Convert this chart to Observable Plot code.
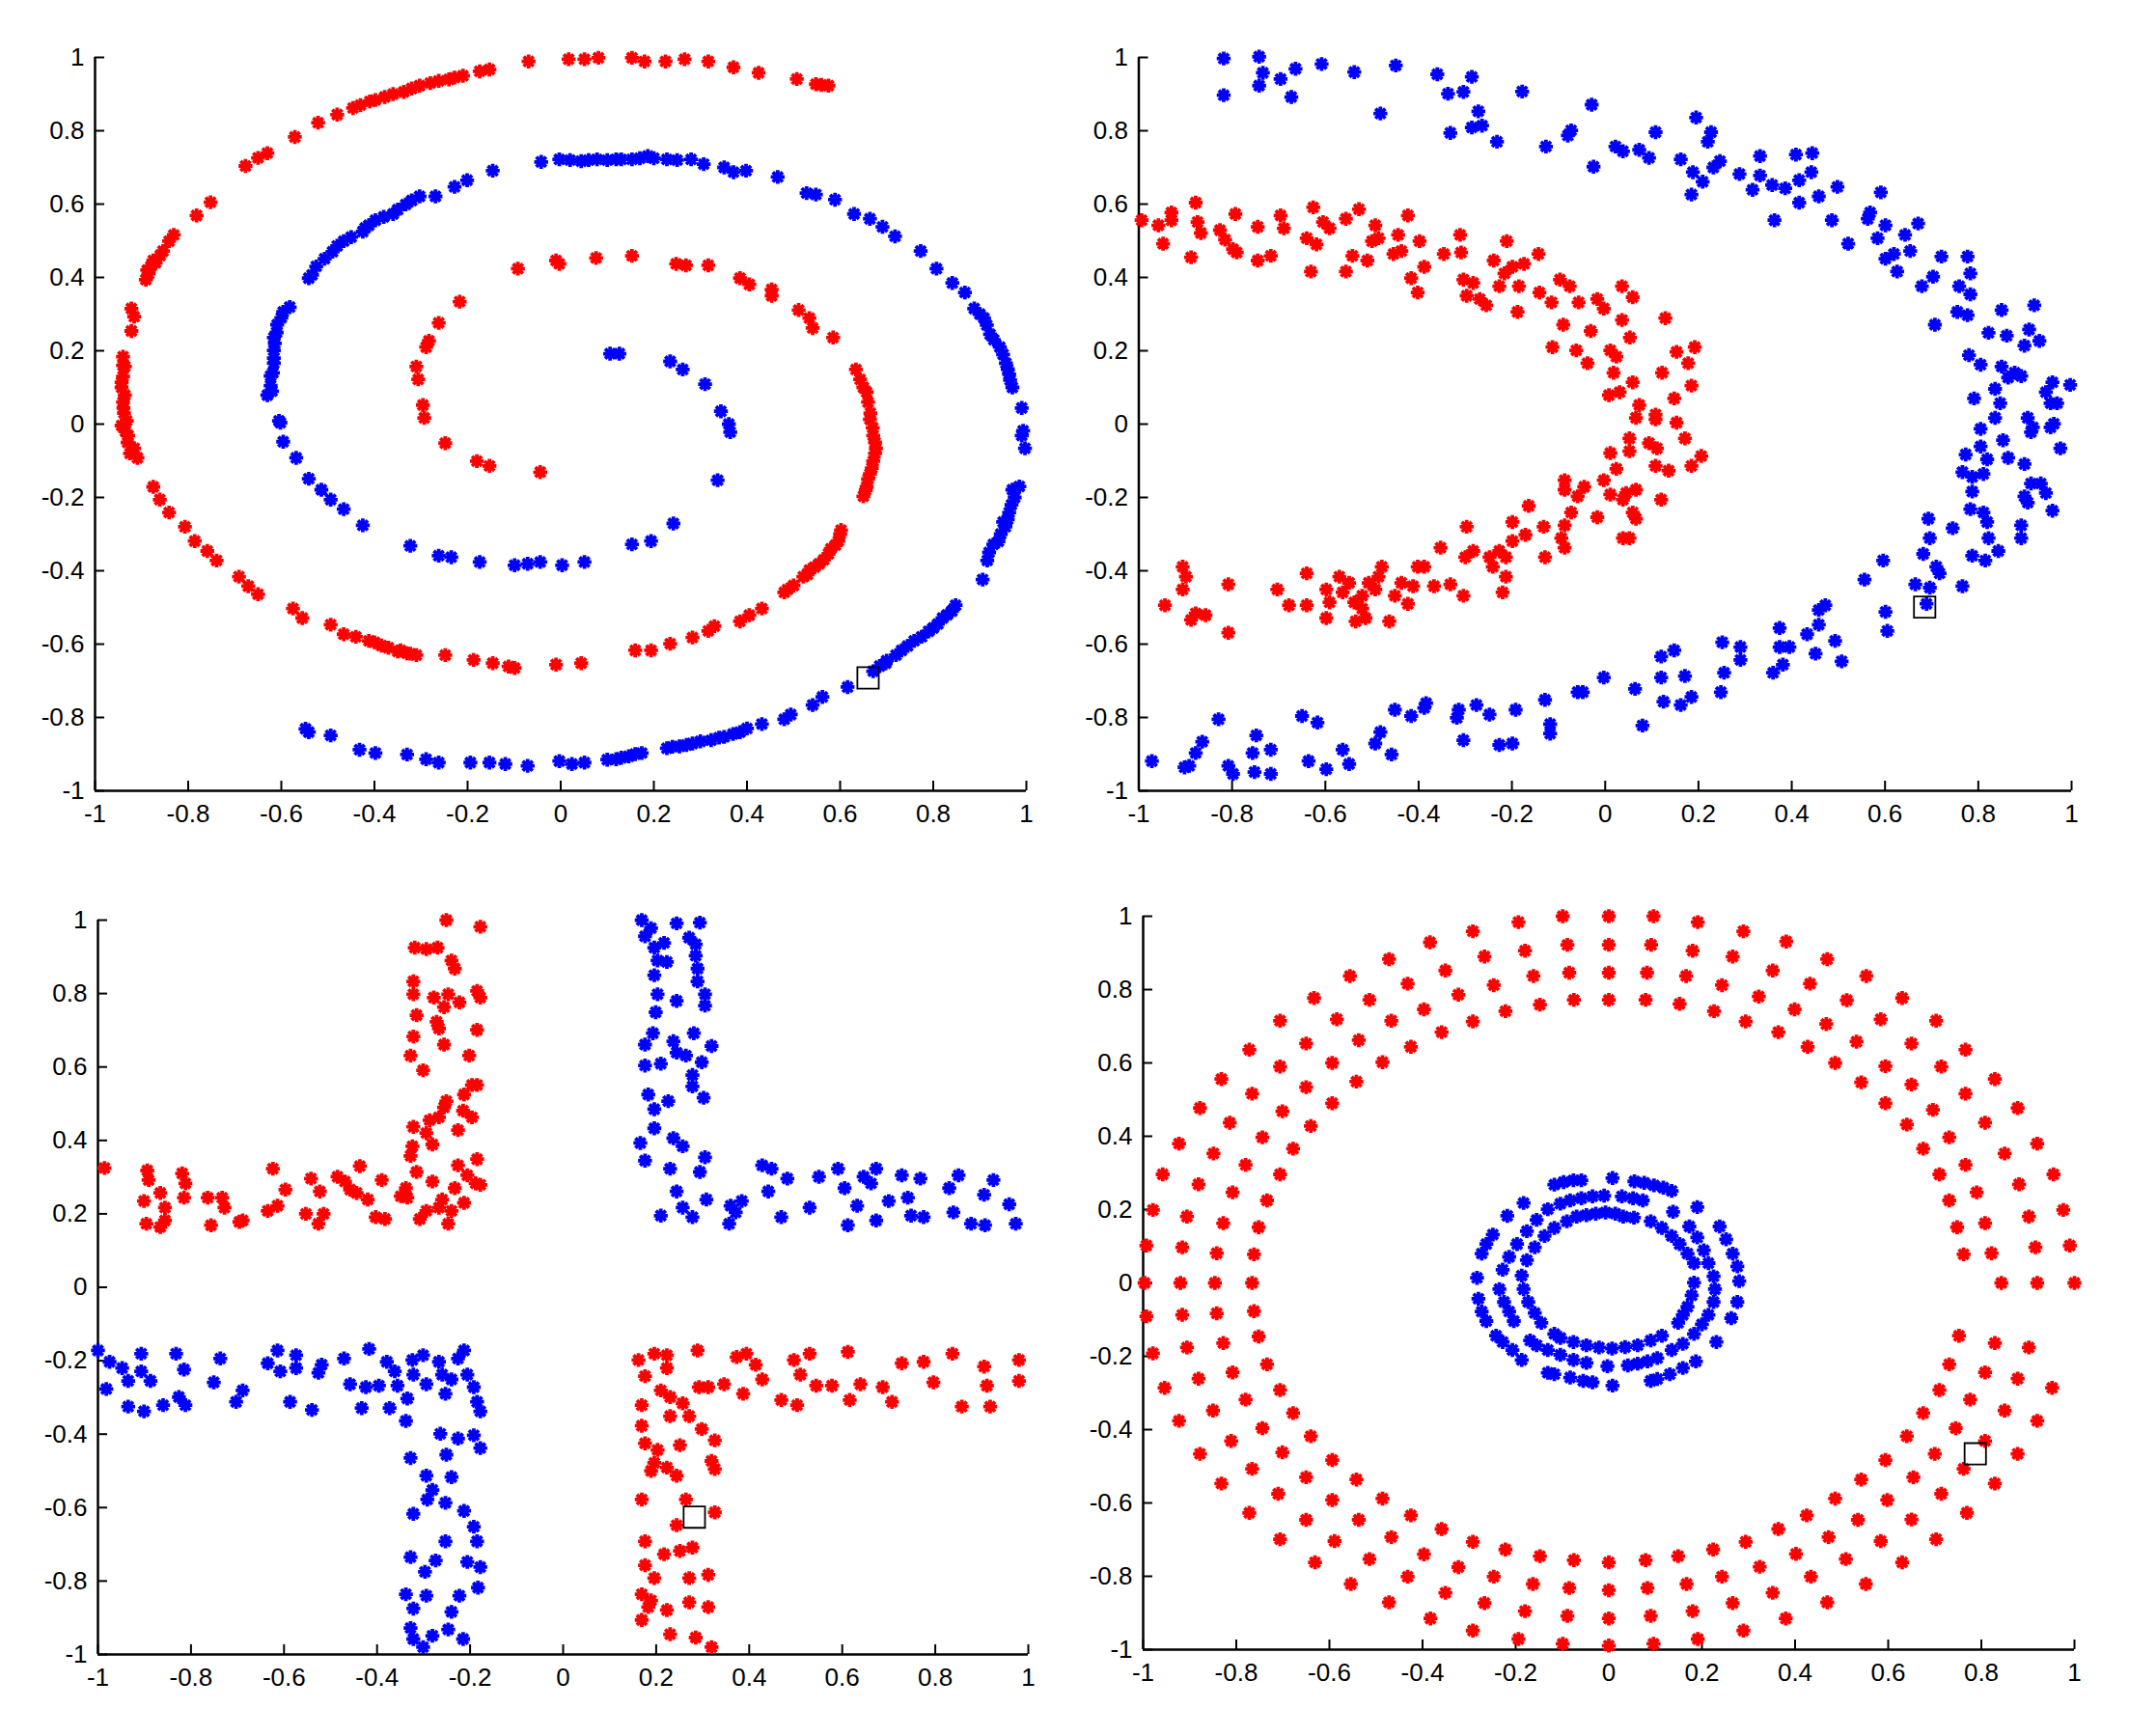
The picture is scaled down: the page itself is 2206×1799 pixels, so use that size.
<!DOCTYPE html>
<html>
<head>
<meta charset="utf-8">
<script src="https://cdn.jsdelivr.net/npm/d3@7"></script>
<script src="https://cdn.jsdelivr.net/npm/@observablehq/plot@0.6"></script>
<style>
  html, body { margin: 0; padding: 0; background: #ffffff; }
  #fig { position: relative; width: 2206px; height: 1799px; background: #ffffff; overflow: hidden; }
  #fig > svg { position: absolute; }
</style>
</head>
<body>
<div id="fig"></div>
<script>
// ---------------- data ----------------
const ticks = [-1, -0.8, -0.6, -0.4, -0.2, 0, 0.2, 0.4, 0.6, 0.8, 1];

// Panel 1: two interleaved spirals
const spiralRed = [
  [0.575,0.923],[0.56,0.925],[0.548,0.927],[0.507,0.941],[0.425,0.958],[0.371,0.973],[0.317,0.989],[0.266,0.995],
  [0.225,0.989],[0.180,0.989],[0.153,0.999],[0.081,0.999],[0.051,0.995],[0.017,0.995],[-0.069,0.989],
  [-0.153,0.967],[-0.174,0.962],[-0.21,0.95],[-0.228,0.945],[-0.24,0.94],[-0.262,0.936],[-0.28,0.93],[-0.303,0.923],
  [-0.32,0.915],[-0.337,0.906],[-0.36,0.90],[-0.378,0.892],[-0.398,0.884],[-0.41,0.88],[-0.43,0.87],[-0.446,0.862],
  [-0.480,0.844],[-0.521,0.822],[-0.571,0.783],[-0.630,0.739],[-0.650,0.726],[-0.677,0.704],[-0.752,0.605],
  [-0.782,0.569],[-0.831,0.516],[-0.841,0.499],[-0.854,0.472],[-0.86,0.46],[-0.87,0.44],[-0.875,0.446],
  [-0.88,0.43],[-0.888,0.420],[-0.885,0.41],[-0.891,0.394],[-0.922,0.315],[-0.916,0.293],[-0.922,0.254],
  [-0.940,0.184],[-0.94,0.16],[-0.936,0.157],[-0.94,0.13],[-0.943,0.114],[-0.943,0.10],[-0.936,0.079],
  [-0.94,0.06],[-0.939,0.044],[-0.938,0.03],[-0.932,0.009],[-0.943,-0.004],[-0.935,-0.02],[-0.929,-0.031],
  [-0.93,-0.05],[-0.916,-0.066],[-0.925,-0.08],[-0.909,-0.092],[-0.875,-0.171],[-0.861,-0.206],[-0.841,-0.241],
  [-0.807,-0.280],[-0.786,-0.319],[-0.759,-0.346],[-0.739,-0.372],[-0.691,-0.416],[-0.671,-0.442],[-0.650,-0.464],
  [-0.575,-0.503],[-0.555,-0.529],[-0.494,-0.547],[-0.466,-0.573],[-0.44,-0.58],[-0.412,-0.591],[-0.40,-0.595],
  [-0.385,-0.604],[-0.37,-0.61],[-0.35,-0.62],[-0.344,-0.617],[-0.33,-0.625],[-0.323,-0.626],[-0.31,-0.63],
  [-0.248,-0.630],[-0.187,-0.643],[-0.146,-0.652],[-0.112,-0.661],[-0.099,-0.665],[-0.010,-0.656],[0.044,-0.652],
  [0.160,-0.617],[0.194,-0.617],[0.235,-0.599],[0.283,-0.582],[0.317,-0.564],[0.330,-0.551],[0.385,-0.538],
  [0.405,-0.521],[0.432,-0.503],[0.480,-0.459],[0.487,-0.451],[0.50,-0.44],[0.521,-0.416],[0.53,-0.41],
  [0.534,-0.398],[0.545,-0.39],[0.555,-0.381],[0.565,-0.37],[0.575,-0.354],[0.58,-0.34],[0.59,-0.33],
  [0.596,-0.319],[0.60,-0.30],[0.602,-0.289],[0.650,-0.197],[0.655,-0.18],[0.657,-0.171],[0.66,-0.15],
  [0.664,-0.136],[0.668,-0.12],[0.671,-0.101],[0.675,-0.08],[0.677,-0.066],[0.675,-0.05],[0.671,-0.031],
  [0.67,-0.01],[0.664,0.013],[0.665,0.03],[0.66,0.06],[0.657,0.087],[0.65,0.1],[0.643,0.122],[0.634,0.149],
  [0.585,0.236],[0.541,0.262],[0.534,0.289],[0.511,0.311],[0.453,0.350],[0.453,0.367],[0.405,0.381],
  [0.385,0.398],[0.317,0.433],[0.269,0.433],[0.248,0.437],[0.153,0.459],[0.076,0.453],[-0.003,0.437],
  [-0.010,0.446],[-0.092,0.424],[-0.217,0.334],[-0.262,0.276],[-0.283,0.227],[-0.289,0.210],[-0.310,0.157],
  [-0.306,0.122],[-0.296,0.052],[-0.293,0.017],[-0.248,-0.052],[-0.180,-0.101],[-0.153,-0.114],[-0.044,-0.131]
];
const spiralBlue = [
  [-0.146,0.691],[-0.201,0.665],[-0.228,0.647],[-0.269,0.621],[-0.303,0.621],[-0.32,0.61],[-0.333,0.599],
  [-0.35,0.585],[-0.360,0.573],[-0.38,0.565],[-0.398,0.556],[-0.412,0.542],[-0.42,0.535],[-0.425,0.525],
  [-0.45,0.51],[-0.466,0.499],[-0.480,0.486],[-0.49,0.47],[-0.507,0.451],[-0.525,0.43],[-0.534,0.407],
  [-0.541,0.398],[-0.582,0.319],[-0.596,0.306],[-0.6,0.29],[-0.609,0.271],[-0.61,0.25],[-0.616,0.236],
  [-0.614,0.22],[-0.616,0.201],[-0.616,0.18],[-0.616,0.166],[-0.618,0.14],[-0.623,0.131],[-0.623,0.105],
  [-0.62,0.09],[-0.630,0.079],[-0.605,0.009],
  [-0.042,0.715],[-0.003,0.722],[0.02,0.72],[0.044,0.717],[0.06,0.72],[0.078,0.722],[0.10,0.72],[0.119,0.722],
  [0.13,0.722],[0.153,0.722],[0.17,0.725],[0.187,0.731],[0.2,0.725],[0.228,0.722],[0.25,0.72],[0.280,0.722],
  [0.307,0.709],[0.351,0.700],[0.371,0.687],[0.398,0.691],[0.466,0.674],[0.528,0.630],[0.548,0.626],
  [0.589,0.612],[0.630,0.573],[0.664,0.560],[0.691,0.538],[0.718,0.512],[0.773,0.472],[0.807,0.424],
  [0.841,0.385],[0.868,0.359],[0.888,0.315],[0.90,0.30],[0.909,0.289],[0.915,0.27],[0.922,0.245],[0.93,0.23],
  [0.943,0.210],[0.95,0.19],[0.956,0.166],[0.96,0.15],[0.963,0.136],[0.965,0.12],[0.97,0.1],[0.990,0.044],
  [0.993,-0.018],[0.990,-0.031],[0.997,-0.066],[0.970,-0.179],[0.985,-0.17],[0.975,-0.2],[0.968,-0.22],
  [0.963,-0.241],[0.96,-0.26],[0.950,-0.267],[0.955,-0.28],[0.945,-0.3],[0.94,-0.32],[0.929,-0.328],
  [0.92,-0.35],[0.916,-0.372],[0.906,-0.424],[0.848,-0.494],[0.84,-0.51],[0.83,-0.52],[0.820,-0.529],
  [0.81,-0.545],[0.800,-0.556],[0.79,-0.565],[0.775,-0.58],[0.759,-0.591],[0.745,-0.605],[0.732,-0.617],
  [0.72,-0.63],[0.70,-0.645],[0.698,-0.652],[0.685,-0.66],[0.671,-0.674],[0.616,-0.717],[0.562,-0.744],
  [0.541,-0.766],[0.494,-0.792],[0.480,-0.805],[0.432,-0.818],[0.40,-0.83],[0.385,-0.840],[0.37,-0.845],
  [0.351,-0.853],[0.34,-0.855],[0.323,-0.862],[0.30,-0.865],[0.283,-0.871],[0.27,-0.875],[0.255,-0.879],
  [0.24,-0.88],[0.228,-0.884],[0.174,-0.897],[0.16,-0.90],[0.146,-0.906],[0.13,-0.91],[0.119,-0.914],
  [0.1,-0.915],[0.051,-0.923],[0.024,-0.927],[-0.003,-0.919],[-0.071,-0.932],[-0.119,-0.927],[-0.153,-0.923],
  [-0.194,-0.923],[-0.262,-0.923],[-0.289,-0.914],[-0.330,-0.901],[-0.398,-0.897],[-0.432,-0.888],
  [-0.494,-0.849],[-0.541,-0.840],[-0.548,-0.831],
  [-0.602,0.004],[-0.596,-0.048],[-0.568,-0.092],[-0.541,-0.149],[-0.514,-0.179],[-0.494,-0.206],
  [-0.466,-0.232],[-0.425,-0.276],[-0.323,-0.332],[-0.262,-0.359],[-0.235,-0.363],[-0.174,-0.376],
  [-0.099,-0.385],[-0.071,-0.381],[-0.044,-0.376],[0.003,-0.385],[0.051,-0.376],[0.153,-0.328],[0.194,-0.319],
  [0.242,-0.271],[0.337,-0.153],[0.364,-0.022],[0.361,0.000],[0.344,0.035],[0.310,0.109],[0.262,0.149],
  [0.235,0.171],[0.126,0.192],[0.106,0.192]
];

// Panel 2: two noisy moons
const moonsRed = [
  [-0.994,0.556],[-0.958,0.542],[-0.948,0.492],[-0.930,0.556],[-0.930,0.577],[-0.888,0.455],[-0.878,0.604],
  [-0.874,0.551],[-0.867,0.521],[-0.826,0.529],[-0.815,0.503],[-0.798,0.477],[-0.790,0.468],[-0.793,0.573],
  [-0.745,0.538],[-0.745,0.446],[-0.717,0.459],[-0.696,0.569],[-0.689,0.534],[-0.640,0.507],[-0.631,0.416],
  [-0.626,0.591],[-0.619,0.490],[-0.605,0.551],[-0.591,0.534],[-0.556,0.560],[-0.556,0.416],[-0.542,0.459],
  [-0.528,0.586],[-0.510,0.446],[-0.500,0.499],[-0.493,0.542],[-0.486,0.507],[-0.454,0.464],[-0.444,0.516],
  [-0.437,0.472],[-0.423,0.569],[-0.416,0.398],[-0.402,0.359],[-0.398,0.499],[-0.388,0.429],[-0.346,0.464],
  [-0.311,0.516],[-0.309,0.468],[-0.304,0.394],[-0.297,0.350],[-0.283,0.385],[-0.269,0.341],[-0.255,0.324],
  [-0.239,0.446],[-0.227,0.376],[-0.216,0.411],[-0.211,0.499],[-0.199,0.429],[-0.188,0.306],[-0.185,0.376],
  [-0.174,0.437],[-0.143,0.464],[-0.141,0.359],[-0.115,0.332],[-0.113,0.210],[-0.097,0.394],[-0.090,0.271],
  [-0.076,0.376],[-0.062,0.201],[-0.057,0.332],[-0.038,0.166],[-0.031,0.254],[-0.017,0.341],[-0.003,0.315],
  [0.011,0.201],[0.018,0.140],[0.024,0.184],[0.036,0.376],[0.036,0.284],[0.053,0.236],[0.059,0.346],
  [0.008,0.079],[0.031,0.087],[0.059,0.114],[0.073,0.052],[0.108,0.026],[0.122,0.140],[0.129,0.289],
  [0.148,0.070],[0.153,0.197],[0.178,0.166],[0.185,0.105],[0.192,0.210],[0.153,0.004],
  [0.066,0.017],[0.108,0.013],[0.171,-0.039],[0.094,-0.052],[0.111,-0.066],[0.052,-0.039],[0.011,-0.079],
  [0.052,-0.074],[0.206,-0.087],[0.185,-0.114],[0.108,-0.114],[0.136,-0.127],[0.024,-0.122],[-0.045,-0.171],
  [-0.087,-0.153],[-0.087,-0.179],[-0.003,-0.153],[0.011,-0.192],[0.038,-0.206],[0.045,-0.188],[0.066,-0.179],
  [0.059,-0.241],[0.066,-0.258],[0.052,-0.311],[0.120,-0.206],[0.038,-0.311],[-0.017,-0.254],[-0.059,-0.197],
  [-0.073,-0.241],[-0.087,-0.276],[-0.094,-0.311],[-0.087,-0.337],[-0.132,-0.280],[-0.129,-0.363],[-0.164,-0.223],
  [-0.171,-0.302],[-0.199,-0.267],[-0.199,-0.319],[-0.213,-0.363],[-0.213,-0.416],[-0.220,-0.459],[-0.227,-0.346],
  [-0.248,-0.363],[-0.241,-0.389],[-0.283,-0.346],[-0.297,-0.280],[-0.300,-0.363],[-0.304,-0.468],[-0.353,-0.337],
  [-0.332,-0.437],[-0.367,-0.442],[-0.388,-0.389],[-0.402,-0.389],[-0.412,-0.442],[-0.423,-0.490],[-0.437,-0.433],
  [-0.451,-0.468],[-0.479,-0.389],[-0.486,-0.416],[-0.493,-0.451],[-0.507,-0.433],[-0.521,-0.468],[-0.521,-0.503],
  [-0.538,-0.486],[-0.549,-0.433],[-0.563,-0.459],[-0.570,-0.416],[-0.591,-0.486],[-0.598,-0.529],[-0.598,-0.451],
  [-0.640,-0.407],[-0.640,-0.494],[-0.678,-0.494],[-0.703,-0.451],[-0.808,-0.437],[-0.808,-0.569],[-0.857,-0.521],
  [-0.878,-0.516],[-0.888,-0.534],[-0.899,-0.416],[-0.906,-0.451],[-0.906,-0.389],[-0.944,-0.494],
  [-0.463,-0.538],[-0.514,-0.529],[-0.535,-0.538]
];
const moonsBlue = [
  [-0.818,0.997],[-0.818,0.897],[-0.742,1.002],[-0.742,0.923],[-0.734,0.958],[-0.696,0.941],[-0.673,0.892],
  [-0.664,0.969],[-0.608,0.982],[-0.538,0.960],[-0.482,0.847],[-0.449,0.978],[-0.360,0.954],[-0.337,0.901],
  [-0.332,0.794],[-0.304,0.906],[-0.286,0.947],[-0.286,0.809],[-0.272,0.853],[-0.264,0.814],[-0.232,0.770],
  [-0.178,0.907],[-0.127,0.757],[-0.080,0.787],[-0.073,0.801],[-0.029,0.871],[-0.025,0.702],[0.022,0.757],
  [0.038,0.744],[0.073,0.748],[0.094,0.726],[0.108,0.796],[0.162,0.722],[0.185,0.626],[0.188,0.687],
  [0.195,0.836],[0.209,0.661],[0.220,0.770],[0.227,0.796],[0.232,0.700],[0.246,0.717],[0.288,0.682],
  [0.316,0.639],[0.332,0.731],[0.332,0.678],[0.358,0.652],[0.363,0.556],[0.386,0.643],[0.409,0.735],
  [0.416,0.604],[0.416,0.665],[0.442,0.687],[0.444,0.739],[0.458,0.621],[0.486,0.556],[0.498,0.647],
  [0.521,0.492],[0.563,0.560],[0.568,0.577],[0.584,0.507],[0.591,0.632],[0.601,0.542],[0.601,0.451],
  [0.619,0.464],[0.626,0.416],[0.643,0.516],[0.654,0.472],[0.671,0.547],[0.679,0.376],[0.703,0.402],
  [0.721,0.457],[0.755,0.306],[0.759,0.376],[0.777,0.457],[0.783,0.411],[0.783,0.354],[0.777,0.297],
  [0.707,0.271],[0.780,0.188],[0.805,0.162],[0.822,0.249],[0.850,0.311],[0.861,0.241],[0.850,0.157],
  [0.864,0.127],[0.878,0.140],[0.892,0.131],[0.899,0.214],[0.909,0.258],[0.920,0.324],[0.931,0.227],
  [0.791,0.070],[0.836,0.096],[0.847,0.057],[0.836,0.017],[0.805,-0.013],[0.906,0.017],[0.917,-0.009],
  [0.945,0.087],[0.959,0.114],[0.955,0.057],[0.969,0.057],[0.962,0.001],[0.997,0.107],
  [0.805,-0.061],[0.773,-0.083],[0.766,-0.131],[0.787,-0.144],[0.811,-0.136],[0.819,-0.096],[0.853,-0.044],
  [0.864,-0.092],[0.899,-0.109],[0.913,-0.022],[0.955,-0.009],[0.976,-0.066],[0.787,-0.184],[0.783,-0.232],
  [0.811,-0.241],[0.819,-0.267],[0.899,-0.197],[0.906,-0.214],[0.913,-0.162],[0.934,-0.162],[0.945,-0.188],
  [0.959,-0.236],[0.745,-0.284],[0.693,-0.258],[0.682,-0.354],[0.696,-0.311],[0.710,-0.389],[0.717,-0.407],
  [0.787,-0.359],[0.822,-0.311],[0.815,-0.372],[0.843,-0.346],[0.892,-0.276],[0.892,-0.311],[0.766,-0.442],
  [0.665,-0.437],[0.696,-0.446],[0.689,-0.490],[0.601,-0.512],[0.605,-0.564],[0.596,-0.372],[0.556,-0.424],
  [0.472,-0.494],[0.458,-0.507],[0.458,-0.547],[0.433,-0.573],[0.451,-0.626],[0.493,-0.591],[0.507,-0.647],
  [0.374,-0.556],[0.374,-0.608],[0.395,-0.608],[0.381,-0.656],[0.360,-0.678],[0.290,-0.608],[0.290,-0.643],
  [0.255,-0.678],[0.251,-0.595],[0.248,-0.731],[0.185,-0.744],[0.171,-0.687],[0.162,-0.766],[0.148,-0.617],
  [0.120,-0.634],[0.120,-0.691],[0.125,-0.757],[0.064,-0.722],[0.080,-0.822],[-0.003,-0.691],[-0.048,-0.731],
  [-0.059,-0.731],[-0.129,-0.752],[-0.118,-0.818],[-0.118,-0.844],[-0.192,-0.779],[-0.248,-0.792],[-0.276,-0.766],
  [-0.314,-0.779],[-0.318,-0.801],[-0.304,-0.862],[-0.199,-0.871],[-0.227,-0.875],[-0.384,-0.761],[-0.388,-0.774],
  [-0.416,-0.796],[-0.451,-0.779],[-0.482,-0.840],[-0.493,-0.871],[-0.458,-0.901],[-0.549,-0.927],[-0.563,-0.888],
  [-0.598,-0.941],[-0.636,-0.919],[-0.650,-0.796],[-0.617,-0.814],[-0.717,-0.888],[-0.717,-0.954],[-0.748,-0.849],
  [-0.756,-0.897],[-0.752,-0.949],[-0.798,-0.954],[-0.808,-0.932],[-0.829,-0.805],[-0.864,-0.866],[-0.878,-0.897],
  [-0.892,-0.932],[-0.902,-0.936],[-0.972,-0.919]
];

// Panel 3: four L-shaped bands
const crossRed = [
  [-0.986,0.325],[-0.894,0.318],[-0.891,0.292],[-0.901,0.235],[-0.896,0.173],[-0.866,0.257],[-0.866,0.164],
  [-0.856,0.217],[-0.856,0.182],[-0.819,0.310],[-0.812,0.283],[-0.815,0.244],[-0.764,0.244],[-0.757,0.169],
  [-0.733,0.244],[-0.728,0.217],[-0.696,0.178],[-0.689,0.182],[-0.635,0.208],[-0.624,0.323],[-0.614,0.222],
  [-0.597,0.266],[-0.553,0.200],[-0.542,0.296],[-0.523,0.261],[-0.526,0.173],[-0.515,0.200],[-0.485,0.301],
  [-0.469,0.288],[-0.458,0.266],[-0.444,0.257],[-0.437,0.330],[-0.420,0.239],[-0.403,0.191],[-0.390,0.292],
  [-0.383,0.186],[-0.349,0.248],[-0.338,0.270],[-0.335,0.244],[-0.315,0.314],[-0.308,0.186],[-0.294,0.208],
  [-0.281,0.288],[-0.267,0.217],[-0.260,0.239],[-0.247,0.173],[-0.240,0.208],[-0.233,0.270],[-0.226,0.332],
  [-0.213,0.230],[-0.206,0.305],[-0.188,0.283],[-0.185,0.349],[-0.178,0.279],[-0.328,0.358],[-0.324,0.384],
  [-0.322,0.437],[-0.294,0.420],[-0.287,0.455],[-0.267,0.463],[-0.256,0.490],[-0.251,0.507],[-0.226,0.428],
  [-0.215,0.481],[-0.196,0.463],[-0.328,0.631],[-0.322,0.683],[-0.319,0.925],[-0.322,0.833],[-0.322,0.798],
  [-0.315,0.741],[-0.301,0.591],[-0.294,0.921],[-0.281,0.389],[-0.278,0.789],[-0.272,0.723],[-0.267,0.705],
  [-0.256,0.763],[-0.256,0.661],[-0.251,1.000],[-0.247,0.798],[-0.240,0.890],[-0.233,0.868],[-0.223,0.776],
  [-0.213,0.525],[-0.202,0.631],[-0.196,0.551],[-0.185,0.701],[-0.178,0.982],[-0.185,0.807],[-0.178,0.789],
  [-0.185,0.551],[-0.270,0.925],
  [0.162,-0.198],[0.176,-0.242],[0.169,-0.321],[0.196,-0.181],[0.223,-0.185],[0.223,-0.220],[0.210,-0.281],
  [0.289,-0.172],[0.292,-0.272],[0.312,-0.272],[0.346,-0.264],[0.373,-0.190],[0.387,-0.290],[0.394,-0.181],
  [0.414,-0.211],[0.428,-0.251],[0.469,-0.307],[0.496,-0.198],[0.503,-0.321],[0.510,-0.238],[0.530,-0.181],
  [0.544,-0.268],[0.578,-0.268],[0.612,-0.176],[0.616,-0.307],[0.639,-0.264],[0.687,-0.272],[0.707,-0.312],
  [0.728,-0.207],[0.775,-0.203],[0.796,-0.259],[0.837,-0.181],[0.857,-0.325],[0.905,-0.216],[0.911,-0.268],
  [0.918,-0.325],[0.980,-0.198],[0.980,-0.255],[0.230,-0.299],[0.257,-0.316],[0.271,-0.351],[0.298,-0.386],
  [0.326,-0.417],[0.230,-0.351],[0.251,-0.430],[0.169,-0.377],[0.176,-0.425],[0.203,-0.443],[0.196,-0.478],
  [0.189,-0.500],[0.223,-0.491],[0.244,-0.513],[0.319,-0.473],[0.326,-0.495],[0.169,-0.578],[0.264,-0.578],
  [0.326,-0.613],[0.244,-0.648],[0.176,-0.692],[0.217,-0.727],[0.251,-0.718],[0.278,-0.709],[0.176,-0.757],
  [0.196,-0.792],[0.271,-0.792],[0.312,-0.783],[0.169,-0.836],[0.189,-0.853],[0.183,-0.871],[0.169,-0.906],
  [0.223,-0.879],[0.271,-0.858],[0.312,-0.871],[0.230,-0.945],[0.285,-0.954],[0.319,-0.980]
];
const crossBlue = [
  [0.169,1.000],[0.189,0.978],[0.176,0.956],[0.196,0.925],[0.217,0.938],[0.244,0.991],[0.294,0.993],
  [0.271,0.952],[0.285,0.934],[0.285,0.903],[0.203,0.890],[0.223,0.886],[0.196,0.850],[0.289,0.868],
  [0.289,0.833],[0.203,0.798],[0.244,0.780],[0.305,0.798],[0.305,0.767],[0.199,0.749],[0.193,0.692],
  [0.176,0.661],[0.237,0.670],[0.281,0.692],[0.319,0.657],[0.176,0.604],[0.210,0.609],[0.244,0.639],
  [0.264,0.631],[0.298,0.613],[0.278,0.578],[0.278,0.547],[0.183,0.525],[0.226,0.507],[0.302,0.516],
  [0.196,0.485],[0.196,0.433],[0.237,0.406],[0.257,0.384],[0.166,0.393],[0.176,0.345],[0.230,0.323],
  [0.305,0.354],[0.294,0.314],[0.244,0.261],[0.257,0.217],[0.210,0.195],[0.278,0.191],[0.308,0.239],
  [0.360,0.222],[0.384,0.235],[0.371,0.204],[0.357,0.173],[0.428,0.332],[0.448,0.323],[0.441,0.261],
  [0.482,0.296],[0.469,0.191],[0.530,0.217],[0.550,0.301],[0.591,0.323],[0.605,0.270],[0.612,0.169],
  [0.632,0.222],[0.646,0.301],[0.673,0.323],[0.673,0.182],[0.662,0.283],[0.700,0.235],[0.728,0.305],
  [0.741,0.244],[0.748,0.195],[0.768,0.296],[0.775,0.191],[0.830,0.270],[0.850,0.305],[0.839,0.204],
  [0.877,0.173],[0.905,0.252],[0.925,0.292],[0.907,0.169],[0.959,0.226],[0.973,0.173],
  [-1.000,-0.172],[-0.975,-0.203],[-0.982,-0.277],[-0.948,-0.220],[-0.935,-0.255],[-0.935,-0.325],
  [-0.907,-0.181],[-0.901,-0.338],[-0.907,-0.229],[-0.887,-0.255],[-0.860,-0.321],[-0.832,-0.181],
  [-0.826,-0.299],[-0.815,-0.224],[-0.812,-0.321],[-0.737,-0.194],[-0.751,-0.259],[-0.703,-0.312],
  [-0.689,-0.281],[-0.635,-0.207],[-0.614,-0.172],[-0.608,-0.229],[-0.574,-0.185],[-0.574,-0.220],
  [-0.587,-0.312],[-0.540,-0.334],[-0.526,-0.233],[-0.519,-0.211],[-0.471,-0.194],[-0.458,-0.264],
  [-0.433,-0.329],[-0.417,-0.168],[-0.424,-0.272],[-0.396,-0.268],[-0.379,-0.203],[-0.373,-0.329],
  [-0.362,-0.229],[-0.356,-0.268],[-0.335,-0.303],[-0.338,-0.364],[-0.324,-0.198],[-0.322,-0.238],
  [-0.301,-0.185],[-0.294,-0.264],[-0.267,-0.203],[-0.260,-0.238],[-0.253,-0.290],[-0.240,-0.251],
  [-0.226,-0.194],[-0.213,-0.172],[-0.206,-0.238],[-0.192,-0.272],[-0.185,-0.312],[-0.178,-0.338],
  [-0.264,-0.399],[-0.226,-0.412],[-0.192,-0.403],[-0.178,-0.438],[-0.251,-0.456],[-0.328,-0.465],
  [-0.294,-0.513],[-0.281,-0.552],[-0.240,-0.517],[-0.292,-0.578],[-0.253,-0.587],[-0.213,-0.609],
  [-0.322,-0.617],[-0.192,-0.652],[-0.185,-0.692],[-0.253,-0.692],[-0.328,-0.735],[-0.274,-0.744],
  [-0.297,-0.775],[-0.206,-0.748],[-0.178,-0.762],[-0.183,-0.818],[-0.338,-0.836],[-0.294,-0.840],
  [-0.322,-0.875],[-0.223,-0.840],[-0.240,-0.884],[-0.328,-0.928],[-0.322,-0.958],[-0.281,-0.949],
  [-0.247,-0.932],[-0.215,-0.958],[-0.301,-0.980]
];

// Panel 4: outer ring band and inner rings
const ringRed = [
  [-0.997,0.000],[-0.993,0.102],[-0.979,0.199],[-0.958,0.296],[-0.923,0.380],[-0.878,0.477],[-0.832,0.556],
  [-0.772,0.636],[-0.706,0.715],[-0.633,0.777],[-0.556,0.837],[-0.472,0.883],[-0.384,0.929],[-0.292,0.959],
  [-0.194,0.984],[-0.099,1.000],[0.000,1.000],[0.096,1.000],[0.191,0.984],[0.289,0.959],[0.381,0.931],
  [0.469,0.883],[0.553,0.837],[0.630,0.777],[0.703,0.715],[0.766,0.636],[0.829,0.556],[0.878,0.477],
  [0.920,0.380],[0.955,0.296],[0.976,0.199],[0.990,0.102],[1.000,0.000],
  [-0.920,0.000],[-0.916,0.097],[-0.906,0.181],[-0.881,0.269],[-0.849,0.353],[-0.814,0.437],[-0.766,0.516],
  [-0.706,0.590],[-0.650,0.653],[-0.584,0.719],[-0.514,0.772],[-0.432,0.816],[-0.351,0.852],[-0.267,0.890],
  [-0.180,0.906],[-0.089,0.922],[0.000,0.922],[0.091,0.922],[0.180,0.906],[0.266,0.890],[0.352,0.852],
  [0.432,0.816],[0.511,0.771],[0.584,0.719],[0.650,0.653],[0.714,0.590],[0.766,0.516],[0.808,0.437],
  [0.850,0.353],[0.881,0.269],[0.902,0.181],[0.916,0.097],[0.920,0.000],
  [-0.846,0.000],[-0.842,0.081],[-0.828,0.163],[-0.808,0.247],[-0.780,0.322],[-0.744,0.397],[-0.701,0.468],
  [-0.650,0.534],[-0.594,0.600],[-0.537,0.662],[-0.467,0.715],[-0.397,0.746],[-0.323,0.786],[-0.247,0.812],
  [-0.162,0.837],[-0.085,0.846],[0.000,0.846],[0.082,0.846],[0.166,0.837],[0.243,0.812],[0.322,0.781],
  [0.399,0.746],[0.467,0.706],[0.532,0.658],[0.594,0.591],[0.650,0.541],[0.696,0.472],[0.731,0.397],
  [0.766,0.322],[0.790,0.247],[0.808,0.163],[0.822,0.081],[0.843,0.000],
  [-0.766,0.000],[-0.762,0.078],[-0.752,0.152],[-0.734,0.225],[-0.706,0.296],[-0.678,0.366],[-0.640,0.428],
  [-0.594,0.490],[-0.542,0.549],[-0.486,0.602],[-0.425,0.644],[-0.359,0.684],[-0.292,0.713],[-0.222,0.741],
  [-0.148,0.759],[-0.075,0.772],[0.000,0.772],[0.079,0.772],[0.152,0.761],[0.226,0.741],[0.294,0.713],
  [0.364,0.684],[0.427,0.644],[0.486,0.600],[0.542,0.547],[0.594,0.490],[0.640,0.432],[0.675,0.366],
  [0.710,0.296],[0.731,0.225],[0.748,0.152],[0.762,0.078],
  [0.752,-0.144],[0.829,-0.164],[0.902,-0.176],[0.731,-0.222],[0.808,-0.244],[0.878,-0.261],[0.952,-0.286],
  [0.710,-0.292],[0.776,-0.318],[0.850,-0.348],[0.920,-0.376],[0.675,-0.355],[0.745,-0.396],[0.808,-0.431],
  [0.878,-0.466],[0.640,-0.418],[0.700,-0.466],[0.762,-0.507],[0.829,-0.547],[0.594,-0.483],[0.654,-0.530],
  [0.714,-0.575],[0.769,-0.627],[0.542,-0.536],[0.598,-0.592],[0.650,-0.645],[0.703,-0.699],[0.486,-0.588],
  [0.535,-0.646],[0.584,-0.704],[0.630,-0.762],[0.425,-0.634],[0.472,-0.693],[0.509,-0.753],[0.552,-0.821],
  [0.364,-0.671],[0.402,-0.739],[0.434,-0.801],[0.469,-0.871],[0.294,-0.706],[0.324,-0.774],[0.352,-0.845],
  [0.380,-0.915],[0.224,-0.727],[0.243,-0.801],[0.266,-0.873],[0.289,-0.948],[0.149,-0.745],[0.167,-0.821],
  [0.180,-0.895],[0.191,-0.971],[0.079,-0.756],[0.083,-0.832],[0.090,-0.908],[0.096,-0.984],[0.000,-0.762],
  [0.000,-0.838],[0.000,-0.915],[0.000,-0.989],[-0.075,-0.756],[-0.085,-0.832],[-0.089,-0.908],[-0.099,-0.984],
  [-0.148,-0.745],[-0.163,-0.821],[-0.180,-0.895],[-0.194,-0.971],[-0.222,-0.727],[-0.247,-0.801],[-0.267,-0.873],
  [-0.292,-0.948],[-0.292,-0.706],[-0.323,-0.775],[-0.351,-0.845],[-0.383,-0.915],[-0.359,-0.671],[-0.397,-0.740],
  [-0.432,-0.801],[-0.472,-0.871],[-0.425,-0.634],[-0.467,-0.693],[-0.514,-0.753],[-0.554,-0.821],[-0.486,-0.588],
  [-0.537,-0.646],[-0.589,-0.704],[-0.631,-0.762],[-0.542,-0.536],[-0.594,-0.592],[-0.650,-0.646],[-0.706,-0.699],
  [-0.594,-0.483],[-0.650,-0.530],[-0.710,-0.575],[-0.772,-0.627],[-0.640,-0.418],[-0.701,-0.462],[-0.766,-0.507],
  [-0.832,-0.547],[-0.678,-0.355],[-0.744,-0.396],[-0.811,-0.431],[-0.878,-0.466],[-0.706,-0.292],[-0.780,-0.318],
  [-0.850,-0.348],[-0.923,-0.376],[-0.734,-0.222],[-0.808,-0.244],[-0.881,-0.261],[-0.954,-0.286],[-0.752,-0.146],
  [-0.828,-0.164],[-0.906,-0.176],[-0.979,-0.192],[-0.762,-0.077],[-0.842,-0.083],[-0.916,-0.087],[-0.993,-0.091]
];
const ringBlue = [
  [-0.117,0.268],[-0.097,0.275],[-0.076,0.280],[-0.059,0.280],[0.008,0.286],[0.055,0.277],[0.076,0.273],
  [0.097,0.266],[0.117,0.260],[0.135,0.251],[0.190,0.207],[0.238,0.154],[0.252,0.119],[0.266,0.080],
  [0.276,0.045],[0.280,0.005],[0.276,-0.052],[0.263,-0.096],[0.231,-0.161],[0.187,-0.214],[0.159,-0.232],
  [0.131,-0.249],[0.104,-0.262],[0.090,-0.267],[0.008,-0.280],[-0.035,-0.271],[-0.055,-0.267],[-0.083,-0.258],
  [-0.117,-0.249],[-0.131,-0.245],[-0.187,-0.210],[-0.207,-0.183],[-0.228,-0.161],[-0.242,-0.144],
  [-0.263,-0.104],[-0.273,-0.078],[-0.280,-0.043],[-0.283,0.014],[-0.273,0.080],[-0.263,0.106],[-0.249,0.132],
  [-0.218,0.183],[-0.183,0.218],
  [-0.228,0.036],[-0.214,0.071],[-0.197,0.106],[-0.176,0.141],[-0.155,0.172],[-0.131,0.201],[-0.104,0.216],
  [-0.083,0.225],[-0.059,0.231],[-0.035,0.236],[-0.010,0.238],[0.028,0.236],[0.052,0.231],[0.073,0.225],
  [0.138,0.194],[0.173,0.154],[0.190,0.124],[0.204,0.089],[0.214,0.054],[0.225,0.018],[0.228,-0.017],
  [0.225,-0.052],[0.214,-0.087],[0.200,-0.113],[0.183,-0.139],[0.159,-0.166],[0.135,-0.183],[0.104,-0.205],
  [0.083,-0.214],[0.062,-0.220],[0.041,-0.225],[-0.003,-0.227],[-0.048,-0.218],[-0.076,-0.210],[-0.104,-0.196],
  [-0.131,-0.183],[-0.155,-0.170],[-0.169,-0.157],[-0.204,-0.104],[-0.214,-0.078],[-0.225,-0.052],[-0.235,-0.017],
  [-0.176,0.062],[-0.159,0.097],[-0.138,0.128],[-0.117,0.150],[-0.090,0.168],[-0.069,0.181],[-0.048,0.185],
  [-0.028,0.189],[-0.007,0.192],[0.014,0.189],[0.031,0.181],[0.054,0.178],[0.090,0.168],[0.114,0.150],
  [0.135,0.128],[0.152,0.106],[0.169,0.080],[0.183,0.054],[0.183,0.001],[0.178,-0.034],[0.169,-0.065],
  [0.159,-0.087],[0.149,-0.109],[0.114,-0.144],[0.090,-0.157],[0.062,-0.170],[0.035,-0.175],[0.007,-0.179],
  [-0.021,-0.176],[-0.048,-0.170],[-0.076,-0.161],[-0.104,-0.150],[-0.117,-0.139],[-0.145,-0.109],[-0.159,-0.082],
  [-0.173,-0.052],[-0.183,-0.017],[-0.187,0.020]
];

// One marked point per panel (the open square)
const markedPoints = [[0.660,-0.692],[0.685,-0.499],[0.282,-0.626],[0.787,-0.466]];

// ---------------- drawing ----------------
const RED = "#ff0000", BLUE = "#0000ff";

// MATLAB-like "*" marker: eight spokes
const asterisk = {
  draw(context, size) {
    const r = Math.sqrt(size / Math.PI);
    const d = r * Math.SQRT1_2;
    context.moveTo(-r, 0); context.lineTo(r, 0);
    context.moveTo(0, -r); context.lineTo(0, r);
    context.moveTo(-d, -d); context.lineTo(d, d);
    context.moveTo(-d, d); context.lineTo(d, -d);
  }
};

const panels = [
  {red: spiralRed, blue: spiralBlue, mark: markedPoints[0], left: 0,    top: 0,   w: 1103, h: 900, ml: 98,   mr: 40, mt: 59, mb: 81},
  {red: moonsRed,  blue: moonsBlue,  mark: markedPoints[1], left: 1103, top: 0,   w: 1103, h: 900, ml: 76.5, mr: 60, mt: 59, mb: 81},
  {red: crossRed,  blue: crossBlue,  mark: markedPoints[2], left: 0,    top: 900, w: 1103, h: 899, ml: 101,  mr: 38, mt: 53, mb: 85},
  {red: ringRed,   blue: ringBlue,   mark: markedPoints[3], left: 1103, top: 900, w: 1103, h: 899, ml: 81,   mr: 57, mt: 49, mb: 90}
];

const fig = document.getElementById("fig");
const fmt = d => String(d);

for (const p of panels) {
  const innerW = p.w - p.ml - p.mr;
  const innerH = p.h - p.mt - p.mb;
  const svg = Plot.plot({
    width: p.w,
    height: p.h,
    marginLeft: p.ml,
    marginRight: p.mr,
    marginTop: p.mt,
    marginBottom: p.mb,
    x: {domain: [-1, 1], axis: null},
    y: {domain: [-1, 1], axis: null},
    style: {fontFamily: "'Liberation Sans', Arial, Helvetica, sans-serif", fontSize: "26px", color: "#000", background: "#fff", overflow: "visible"},
    marks: [
      Plot.ruleX([-1], {stroke: "#000", strokeWidth: 2.5}),
      Plot.ruleY([-1], {stroke: "#000", strokeWidth: 2.5}),
      Plot.tickX(ticks, {x: d => d, insetTop: innerH - 10, stroke: "#000", strokeWidth: 2}),
      Plot.tickY(ticks, {y: d => d, insetRight: innerW - 10, stroke: "#000", strokeWidth: 2}),
      Plot.axisX({ticks, tickSize: 0, tickPadding: 14, tickFormat: fmt, fontSize: 26, fill: "#000"}),
      Plot.axisY({ticks, tickSize: 0, tickPadding: 11, tickFormat: fmt, fontSize: 26, fill: "#000"}),
      Plot.dot(p.red, {x: d => d[0], y: d => d[1], symbol: asterisk, r: 7.2, fill: "none", stroke: RED, strokeWidth: 3.8}),
      Plot.dot(p.blue, {x: d => d[0], y: d => d[1], symbol: asterisk, r: 7.2, fill: "none", stroke: BLUE, strokeWidth: 3.8}),
      Plot.dot([p.mark], {x: d => d[0], y: d => d[1], symbol: "square", r: 12.5, fill: "none", stroke: "#000", strokeWidth: 1.8})
    ]
  });
  svg.style.left = p.left + "px";
  svg.style.top = p.top + "px";
  fig.appendChild(svg);
}
</script>
</body>
</html>
